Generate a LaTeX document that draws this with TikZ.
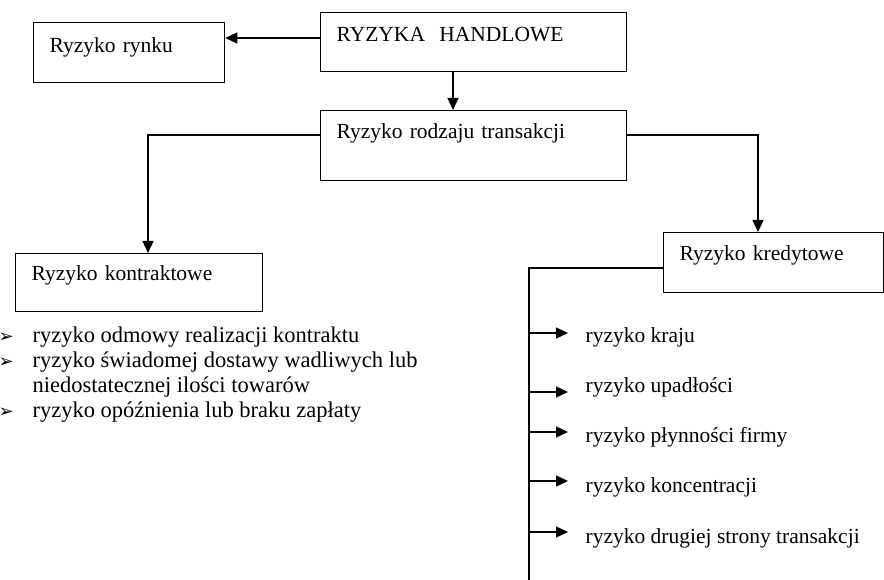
\documentclass[tikz,border=0pt]{standalone}
\usepackage{fontspec}
\setmainfont{Liberation Serif}
\newfontfamily\dingfont{DejaVu Sans}
\usetikzlibrary{arrows.meta}

\begin{document}
\begin{tikzpicture}[x=1pt, y=-1pt, line width=1.3pt, >={Triangle[length=12pt, width=11pt]},
  box/.style={draw, anchor=north west, inner xsep=16pt, inner ysep=0pt, align=left, font=\fontsize{21.5pt}{25pt}\selectfont},
  item/.style={anchor=base west, inner xsep=17pt, inner ysep=0pt, font=\fontsize{21.5pt}{25pt}\selectfont}]

  \useasboundingbox (0,0) rectangle (884,580);

  % Top row
  \node[box, text width=159pt, text height=30pt, text depth=30pt] (rynku) at (33,22) {Ryzyko rynku};
  \node[box, text width=274pt, text height=29pt, text depth=30pt] (hand) at (320,12) {RYZYKA\ \ HANDLOWE};
  \node[box, text width=274pt, text height=28pt, text depth=42pt] (rodz) at (320,110) {Ryzyko rodzaju transakcji};

  % Second row
  \node[box, text width=215pt, text height=27pt, text depth=31pt] (kontr) at (15,253) {Ryzyko kontraktowe};
  \node[box, text width=188pt, text height=28pt, text depth=32pt] (kred) at (663,232) {Ryzyko kredytowe};

  % Arrows between boxes
  \draw[->] ([yshift=-26pt]hand.north west) coordinate (h1) -- (h1 -| rynku.east);
  \draw[->] ([xshift=133pt]hand.south west) coordinate (h2) -- (h2 |- rodz.north);
  \draw[->] ([yshift=-25pt]rodz.north west) -| ([xshift=133pt]kontr.north west);
  \draw[->] ([yshift=-25pt]rodz.north east) -| ([xshift=95pt]kred.north west);

  % Contract risks (base = last line)
  \node[anchor=base west, inner sep=0pt, align=left, font=\fontsize{22.5pt}{25pt}\selectfont] (klist) at (32,417)
    {\llap{{\dingfont\fontsize{18pt}{18pt}\selectfont ➢}\hspace{19pt}}ryzyko odmowy realizacji kontraktu\\
     \llap{{\dingfont\fontsize{18pt}{18pt}\selectfont ➢}\hspace{19pt}}ryzyko świadomej dostawy wadliwych lub\\
     niedostatecznej ilości towarów\\
     \llap{{\dingfont\fontsize{18pt}{18pt}\selectfont ➢}\hspace{19pt}}ryzyko opóźnienia lub braku zapłaty};

  % Credit risks
  \coordinate (trend) at (529,582);
  \draw ([yshift=-36pt]kred.north west) -| (trend);
  \foreach \n/\t/\yb/\ya in {k1/ryzyko kraju/342/333, k2/ryzyko upadłości/392/392,
      k3/ryzyko płynności firmy/442/432, k4/ryzyko koncentracji/492/481,
      k5/ryzyko drugiej strony transakcji/543/532} {
    \node[item] (\n) at (568,\yb) {\t};
    \draw[->] (trend |- 0,\ya) -- (\n.west |- 0,\ya);
  }

\end{tikzpicture}
\end{document}
